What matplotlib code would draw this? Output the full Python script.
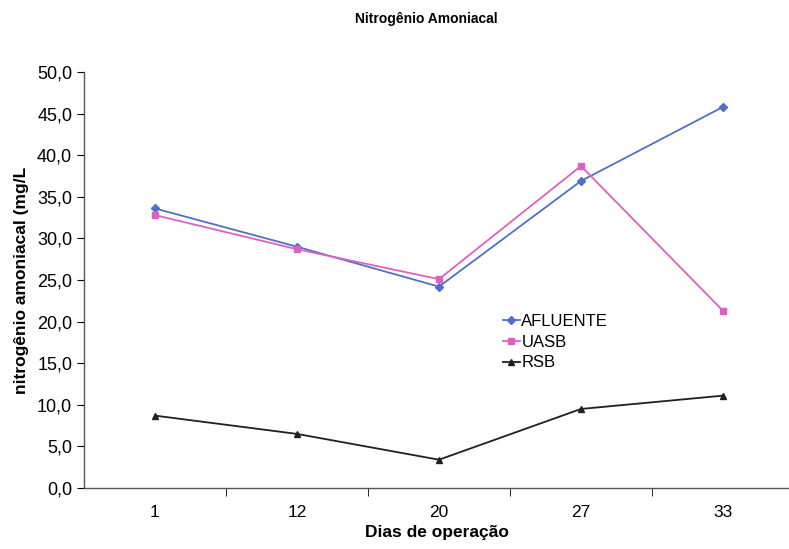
import matplotlib
matplotlib.use('Agg')
import matplotlib.pyplot as plt
from matplotlib.ticker import FuncFormatter, FixedLocator

plt.rcParams['font.family'] = ['Liberation Sans', 'DejaVu Sans']

dias = ['1', '12', '20', '27', '33']
afluente = [33.6, 29.0, 24.2, 36.9, 45.8]
uasb = [32.8, 28.7, 25.1, 38.7, 21.3]
rsb = [8.7, 6.5, 3.4, 9.5, 11.1]

fig = plt.figure(figsize=(7.89, 5.49), dpi=100)
ax = fig.add_axes([84 / 789, 1 - 488 / 549, 705 / 789, (488 - 72) / 549])

x = range(len(dias))
ax.plot(x, afluente, color='#5070c8', marker='D', markersize=4, lw=1.3, label='AFLUENTE')
ax.plot(x, uasb, color='#e060c0', marker='s', markersize=4, lw=1.3, label='UASB')
ax.plot(x, rsb, color='#202020', marker='^', markersize=4.5, lw=1.3, label='RSB')

ax.set_xlim(-0.5, 4.465)
ax.set_ylim(0, 50)
ax.set_yticks(range(0, 51, 5))
ax.yaxis.set_major_formatter(FuncFormatter(lambda v, p: f'{v:.1f}'.replace('.', ',')))
ax.set_xticks(list(x))
ax.set_xticklabels(dias)
ax.tick_params(axis='x', length=0, pad=12, labelsize=12.5)
ax.xaxis.set_minor_locator(FixedLocator([0.5, 1.5, 2.5, 3.5]))
ax.tick_params(axis='x', which='minor', length=6, direction='out')
ax.tick_params(axis='y', length=5, direction='out', labelsize=13)

for s in ['top', 'right']:
    ax.spines[s].set_visible(False)
for s in ['left', 'bottom']:
    ax.spines[s].set_color('#555555')
    ax.spines[s].set_linewidth(1.0)

ax.set_xlabel('Dias de operação', fontsize=12.5, fontweight='bold', labelpad=4)
ax.set_ylabel('nitrogênio amoniacal (mg/L', fontsize=12.5, fontweight='bold', labelpad=6)
fig.text(0.54, 0.965, 'Nitrogênio Amoniacal', ha='center', va='center', fontsize=10, fontweight='bold')

ax.legend(loc='upper left', bbox_to_anchor=(0.585, 0.435), frameon=False, fontsize=12,
          handlelength=1.0, handletextpad=0.1, labelspacing=0.35, borderaxespad=0)

fig.savefig('out.png', dpi=100)
